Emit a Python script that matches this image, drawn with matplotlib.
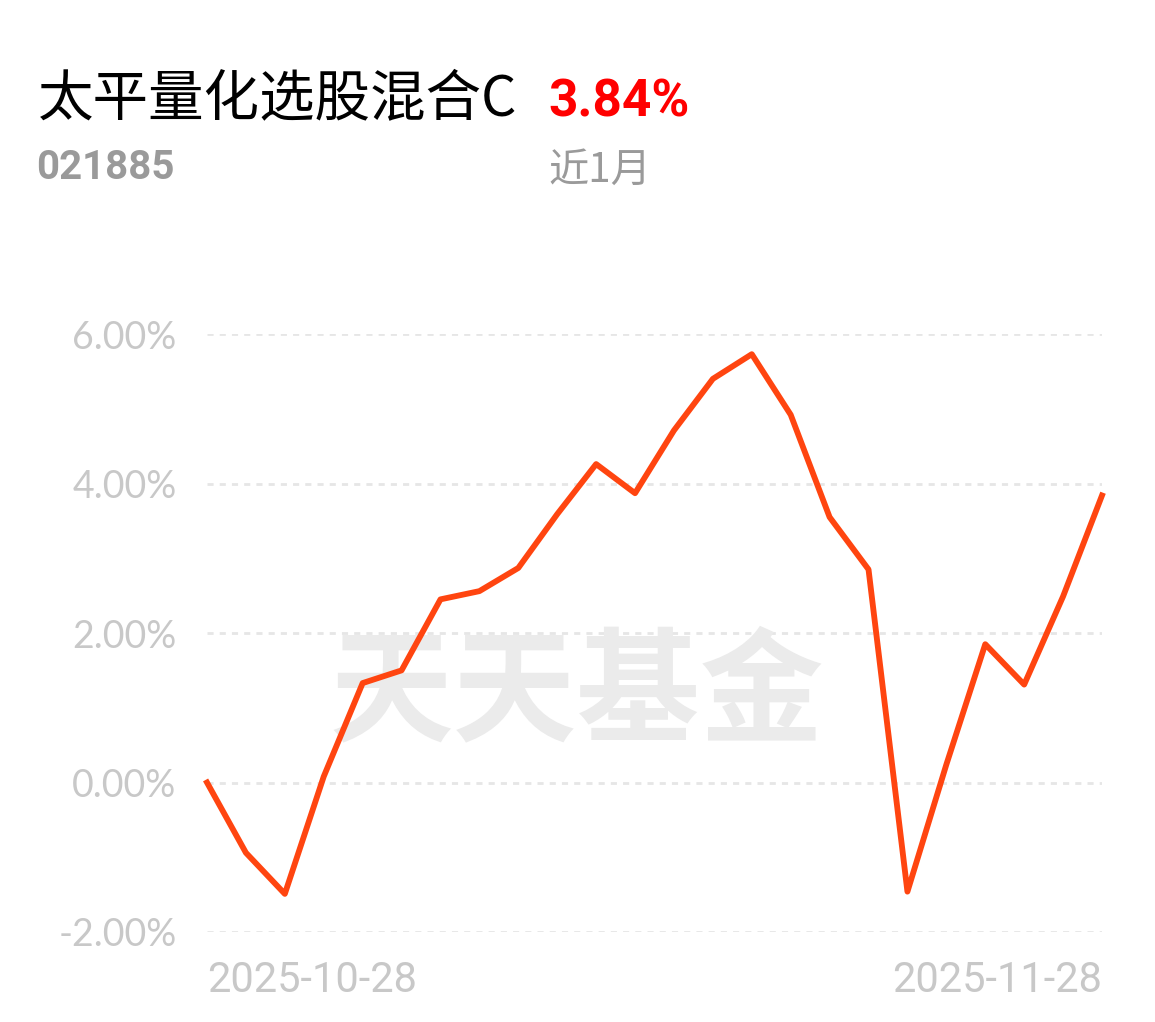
import matplotlib
matplotlib.use("Agg")
import matplotlib.pyplot as plt

plt.rcParams['font.family'] = ['Noto Sans CJK SC', 'DejaVu Sans']

dates = ['2025-10-28', '2025-10-29', '2025-10-30', '2025-10-31',
         '2025-11-03', '2025-11-04', '2025-11-05', '2025-11-06', '2025-11-07',
         '2025-11-10', '2025-11-11', '2025-11-12', '2025-11-13', '2025-11-14',
         '2025-11-17', '2025-11-18', '2025-11-19', '2025-11-20', '2025-11-21',
         '2025-11-24', '2025-11-25', '2025-11-26', '2025-11-27', '2025-11-28']
returns = [0.00, -0.94, -1.49, 0.08, 1.33, 1.50, 2.45, 2.56, 2.87, 3.59,
           4.26, 3.87, 4.71, 5.40, 5.73, 4.92, 3.55, 2.85, -1.46, 0.24,
           1.85, 1.31, 2.49, 3.84]
y_ticks = [-2, 0, 2, 4, 6]
y_tick_labels = ['-2.00%', '0.00%', '2.00%', '4.00%', '6.00%']

fund_name = '太平量化选股混合C'
fund_code = '021885'
period_return = '3.84%'
period_label = '近1月'

W, H = 1155, 1022
fig = plt.figure(figsize=(W / 100, H / 100), dpi=100)
ax = fig.add_axes([207 / W, 1 - 932 / H, 895 / W, 598 / H])

x = list(range(len(dates)))
ax.set_xlim(0, len(dates) - 1)
ax.set_ylim(-2, 6)

for t in y_ticks:
    ax.axhline(t, color='#e6e6e6', lw=2, ls=(0, (2.2, 2.2)), zorder=1)

# watermark
ax.text(0.413, 0.395, '天天基金', transform=ax.transAxes, ha='center', va='center',
        fontsize=89, fontweight='heavy', color='#ebebeb', zorder=2)

ax.plot(x, returns, color='#ff4510', lw=4.2, clip_on=False, zorder=3)

ax.set_yticks(y_ticks)
ax.set_yticklabels(y_tick_labels, fontfamily='Lato', fontsize=27, color='#c8c8c8')
ax.tick_params(axis='y', length=0, pad=22)
ax.set_xticks([0, len(dates) - 1])
ax.set_xticklabels([dates[0], dates[-1]], fontfamily='Roboto', fontsize=30,
                   color='#c8c8c8')
ax.get_xticklabels()[0].set_ha('left')
ax.get_xticklabels()[1].set_ha('right')
ax.tick_params(axis='x', length=0, pad=20)
for s in ax.spines.values():
    s.set_visible(False)

fig.text(38 / W, 1 - 100 / H, fund_name, fontsize=40, color='black', va='center')
fig.text(548 / W, 1 - 102 / H, period_return, fontsize=37, fontweight='bold',
         fontfamily='Roboto', color='#ff0000', va='center')
fig.text(36 / W, 1 - 168 / H, fund_code, fontsize=29, fontweight='bold',
         fontfamily='Roboto', color='#9a9a9a', va='center')
fig.text(548 / W, 1 - 170 / H, period_label, fontsize=29, color='#9a9a9a', va='center')

fig.savefig('out.png', dpi=100)
